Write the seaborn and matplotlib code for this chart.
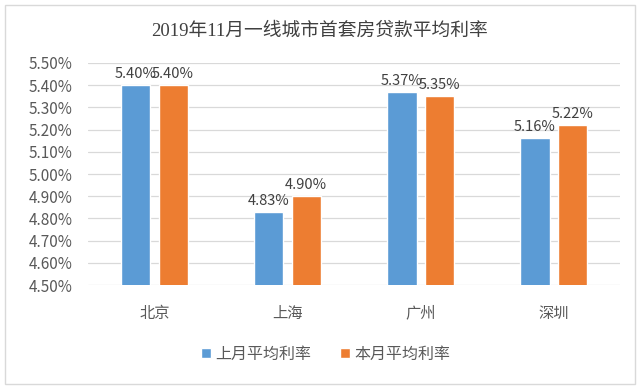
import pandas as pd
import matplotlib.pyplot as plt
import seaborn as sns
from matplotlib.patches import Rectangle
from matplotlib.ticker import FuncFormatter

# 数据
cities = ["北京", "上海", "广州", "深圳"]
last_month = [5.40, 4.83, 5.37, 5.16]
this_month = [5.40, 4.90, 5.35, 5.22]
series_names = ["上月平均利率", "本月平均利率"]
y_ticks = [4.50, 4.60, 4.70, 4.80, 4.90, 5.00, 5.10, 5.20, 5.30, 5.40, 5.50]

df = pd.DataFrame({
    "城市": cities * 2,
    "利率": last_month + this_month,
    "系列": [series_names[0]] * 4 + [series_names[1]] * 4,
})

sns.set_style("white")
plt.rcParams["font.family"] = ["Noto Sans CJK SC", "DejaVu Sans"]

fig = plt.figure(figsize=(6.4, 3.88), dpi=100)
ax = fig.add_axes([0.1375, 0.265, 0.8315, 0.573])

sns.barplot(
    data=df, x="城市", y="利率", hue="系列",
    palette=["#5B9BD5", "#ED7D31"], saturation=1, width=0.56, gap=0.22,
    ax=ax, zorder=3,
)

ax.set_ylim(4.50, 5.50)
ax.set_yticks(y_ticks)
ax.yaxis.set_major_formatter(FuncFormatter(lambda v, p: f"{v:.2f}%"))
ax.grid(axis="y", color="#D9D9D9", linewidth=0.9, zorder=0)
ax.set_axisbelow(True)
for s in ax.spines.values():
    s.set_visible(False)
ax.tick_params(axis="both", length=0, labelsize=11, labelcolor="#595959")
ax.tick_params(axis="y", pad=11)
ax.tick_params(axis="x", pad=14)
ax.set_xlabel("")
ax.set_ylabel("")

for cont in ax.containers:
    ax.bar_label(cont, labels=[f"{v:.2f}%" for v in cont.datavalues],
                 padding=3, fontsize=10.5, color="#404040")

ax.legend(loc="center", bbox_to_anchor=(0.447, -0.31), ncol=2,
          frameon=False, fontsize=11.5, handlelength=0.6, handleheight=0.6,
          handletextpad=0.3, columnspacing=1.8, labelcolor="#595959")

fig.text(0.5, 0.92, "2019年11月一线城市首套房贷款平均利率",
         ha="center", va="center", fontsize=13.5, color="#404040",
         family=["Liberation Serif", "Noto Sans CJK SC"])

fig.patches.append(Rectangle((0.008, 0.01), 0.984, 0.978, transform=fig.transFigure,
                             fill=False, edgecolor="#D9D9D9", linewidth=1))

fig.savefig("out.png", dpi=100)
